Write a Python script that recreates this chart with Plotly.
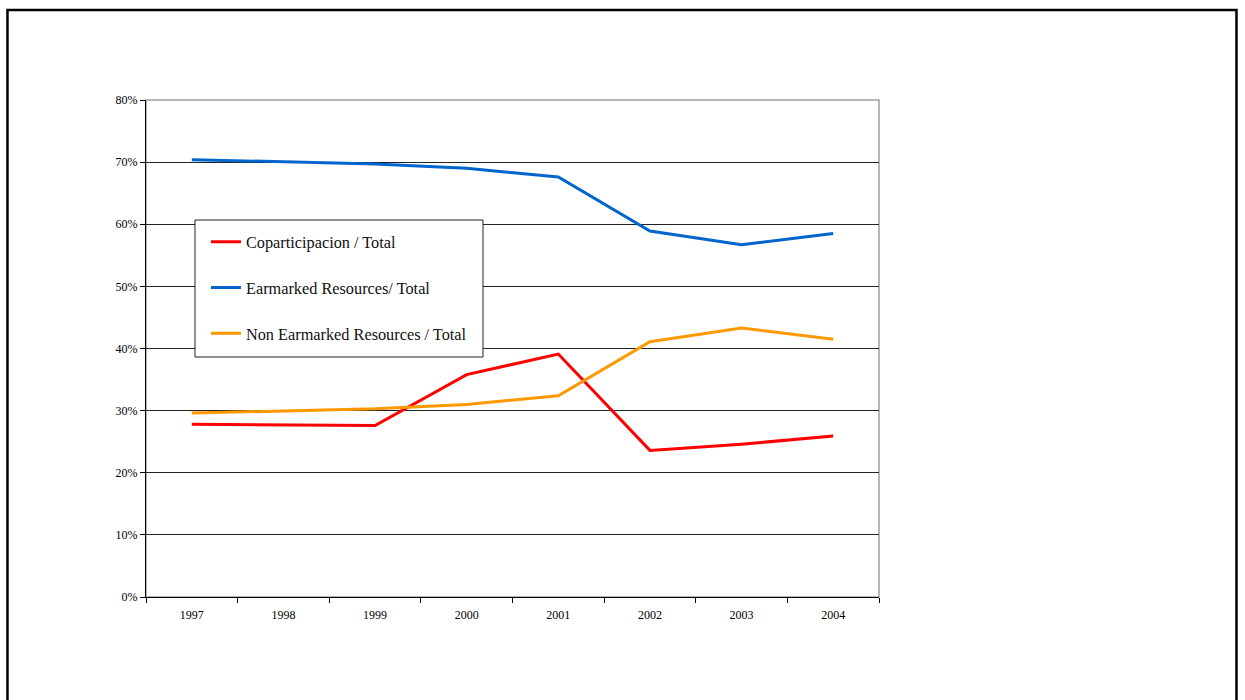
import plotly.graph_objects as go

# Share of total resources by year (percent)
years = ["1997", "1998", "1999", "2000", "2001", "2002", "2003", "2004"]
coparticipacion = [27.8, 27.7, 27.6, 35.8, 39.1, 23.6, 24.6, 25.9]
earmarked = [70.4, 70.0, 69.7, 69.0, 67.6, 58.9, 56.7, 58.5]
non_earmarked = [29.6, 30.0, 30.3, 31.0, 32.4, 41.1, 43.3, 41.5]

y_ticks = [0, 10, 20, 30, 40, 50, 60, 70, 80]
y_tick_labels = [f"{v}%" for v in y_ticks]

series = [
    ("Coparticipacion / Total", coparticipacion, "#FF0000"),
    ("Earmarked Resources/ Total", earmarked, "#0066CC"),
    ("Non Earmarked Resources / Total", non_earmarked, "#FF9900"),
]

fig = go.Figure()
for i, (name, vals, color) in enumerate(series):
    fig.add_trace(go.Scatter(
        x=years, y=vals, name=name, mode="lines",
        line=dict(color=color, width=3),
        legendgroup=f"g{i}",
    ))

serif = "Liberation Serif"

fig.update_layout(
    width=1245, height=700,
    margin=dict(l=146, r=366, t=100, b=103),
    paper_bgcolor="white", plot_bgcolor="white",
    font=dict(family=serif, color="black"),
    showlegend=True,
    legend=dict(
        x=0.0818, y=0.749, xanchor="left", yanchor="top",
        bgcolor="rgba(0,0,0,0)", borderwidth=0,
        font=dict(family=serif, size=16.3, color="#111"),
        traceorder="grouped", tracegroupgap=21.5,
        itemwidth=30,
    ),
    xaxis=dict(
        type="category", range=[-0.5, 7.5],
        tickson="boundaries", ticks="outside", ticklen=5,
        tickcolor="black", tickwidth=1,
        showline=True, linecolor="black", linewidth=1,
        showgrid=False, zeroline=False,
        ticklabelstandoff=7,
        tickfont=dict(family=serif, size=12, color="black"),
    ),
    yaxis=dict(
        range=[0, 80], tickmode="array", tickvals=y_ticks, ticktext=y_tick_labels,
        ticks="outside", ticklen=5, tickcolor="black", tickwidth=1,
        showline=True, linecolor="black", linewidth=1,
        showgrid=True, gridcolor="#222", gridwidth=1,
        zeroline=False,
        tickfont=dict(family=serif, size=12, color="black"),
    ),
    shapes=[
        # plot area frame
        dict(type="rect", xref="paper", yref="paper", x0=0, x1=1, y0=0, y1=1,
             line=dict(color="#a0a0a0", width=1.5), layer="below"),
        # legend box
        dict(type="rect", xref="paper", yref="paper",
             x0=(195 - 146) / 733, x1=(483 - 146) / 733,
             y0=(597 - 357) / 497, y1=(597 - 220) / 497,
             fillcolor="white", line=dict(color="#222", width=1), layer="above"),
        # outer page frame
        dict(type="rect", xref="paper", yref="paper",
             x0=-0.189, x1=1.4877, y0=-0.25, y1=1.181,
             line=dict(color="black", width=2.5)),
    ],
)

fig.write_html("out.html")
